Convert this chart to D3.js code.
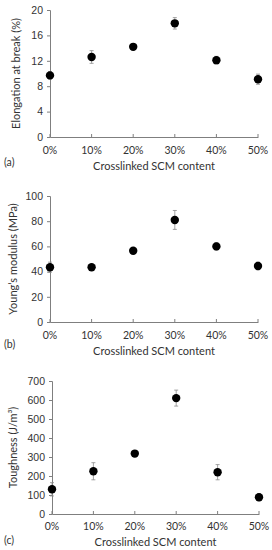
<!DOCTYPE html>
<html>
<head>
<meta charset="utf-8">
<script src="https://cdn.jsdelivr.net/npm/d3@7"></script>
<style>
  body { margin: 0; background: #fff; }
  svg { display: block; font-family: Lato, "Liberation Sans", sans-serif; }
</style>
</head>
<body>
<div id="chart"></div>
<script>
// Categories
const categories = ['0%', '10%', '20%', '30%', '40%', '50%']

// (a) Elongation at break
const elongation = [9.7, 12.6, 14.2, 17.9, 12.1, 9.1]
const elongationErr = [0.6, 1.0, 0.2, 0.9, 0.6, 0.8]
const elongationTicks = [0, 4, 8, 12, 16, 20]

// (b) Young's modulus
const modulus = [43.5, 43.5, 56.5, 81, 60, 44.5]
const modulusErr = [4, 1, 1.5, 7.5, 3, 3]
const modulusTicks = [0, 20, 40, 60, 80, 100]

// (c) Toughness
const toughness = [130, 225, 318, 610, 220, 88]
const toughnessErr = [35, 45, 10, 42, 40, 18]
const toughnessTicks = [0, 100, 200, 300, 400, 500, 600, 700]

const colors = {
  axis: '#7f7f7f',
  text: '#333',
  dot: '#000',
  err: '#8c8c8c'
}

const svg = d3.select('#chart')
  .append('svg')
  .attr('width', 272)
  .attr('height', 550)

const panels = [
  { label: '(a)', title: 'Elongation at break (%)', values: elongation, errs: elongationErr, ticks: elongationTicks,
    left: 50, right: 258, top: 10, bottom: 137, tickY: 154, labelY: 166, titleY: 170, ytitleX: 20 },
  { label: '(b)', title: 'Young\u2019s modulus (MPa)', values: modulus, errs: modulusErr, ticks: modulusTicks,
    left: 50, right: 258, top: 196, bottom: 322, tickY: 339, labelY: 348, titleY: 355, ytitleX: 17 },
  { label: '(c)', title: 'Toughness (J/m\u00b3)', values: toughness, errs: toughnessErr, ticks: toughnessTicks,
    left: 52, right: 259, top: 381, bottom: 514, tickY: 530, labelY: 544, titleY: 546, ytitleX: 17 }
]

panels.forEach(drawPanel)

function drawPanel(p) {
  const g = svg.append('g')

  const x = d3.scalePoint()
    .domain(categories)
    .range([p.left, p.right])

  const y = d3.scaleLinear()
    .domain([0, d3.max(p.ticks)])
    .range([p.bottom, p.top])

  // Ось Y
  const yAxis = g.append('g')
    .attr('transform', `translate(${p.left},0)`)
    .call(d3.axisLeft(y).tickValues(p.ticks).tickSize(3).tickPadding(4))
  yAxis.selectAll('path, line').attr('stroke', colors.axis)
  yAxis.selectAll('text')
    .attr('fill', colors.text)
    .style('font-size', '10.5px')

  // Ось X
  const xAxis = g.append('g')
    .attr('transform', `translate(0,${p.bottom})`)
    .call(d3.axisBottom(x).tickSize(0).tickFormat(''))
  xAxis.selectAll('path').attr('stroke', colors.axis)
  g.selectAll('.xtick')
    .data(categories)
    .enter()
    .append('line')
    .attr('x1', d => x(d))
    .attr('x2', d => x(d))
    .attr('y1', p.bottom - 3)
    .attr('y2', p.bottom)
    .attr('stroke', colors.axis)
  g.selectAll('.xlabel')
    .data(categories)
    .enter()
    .append('text')
    .attr('x', d => x(d))
    .attr('y', p.tickY)
    .attr('text-anchor', 'middle')
    .attr('fill', colors.text)
    .attr('font-size', '10.5px')
    .text(d => d)

  // Погрешности
  const rows = categories.map((c, i) => ({ c, v: p.values[i], e: p.errs[i] }))
  const eg = g.append('g').attr('stroke', colors.err).attr('stroke-width', 0.8)
  eg.selectAll('.bar')
    .data(rows)
    .enter()
    .append('line')
    .attr('x1', d => x(d.c))
    .attr('x2', d => x(d.c))
    .attr('y1', d => y(d.v - d.e))
    .attr('y2', d => y(d.v + d.e))
  ;[1, -1].forEach(s => {
    eg.selectAll('.cap' + s)
      .data(rows)
      .enter()
      .append('line')
      .attr('x1', d => x(d.c) - 2)
      .attr('x2', d => x(d.c) + 2)
      .attr('y1', d => y(d.v + s * d.e))
      .attr('y2', d => y(d.v + s * d.e))
  })

  // Точки
  g.selectAll('.dot')
    .data(rows)
    .enter()
    .append('circle')
    .attr('cx', d => x(d.c))
    .attr('cy', d => y(d.v))
    .attr('r', 4.2)
    .attr('fill', colors.dot)

  // Подписи
  g.append('text')
    .attr('x', (p.left + p.right) / 2)
    .attr('y', p.titleY)
    .attr('text-anchor', 'middle')
    .attr('fill', colors.text)
    .attr('font-size', '11px')
    .text('Crosslinked SCM content')

  g.append('text')
    .attr('x', 4)
    .attr('y', p.labelY)
    .attr('fill', colors.text)
    .attr('font-size', '10.5px')
    .text(p.label)

  g.append('text')
    .attr('transform', `translate(${p.ytitleX},${(p.top + p.bottom) / 2}) rotate(-90)`)
    .attr('text-anchor', 'middle')
    .attr('fill', colors.text)
    .attr('font-size', '11px')
    .text(p.title)
}
</script>
</body>
</html>
